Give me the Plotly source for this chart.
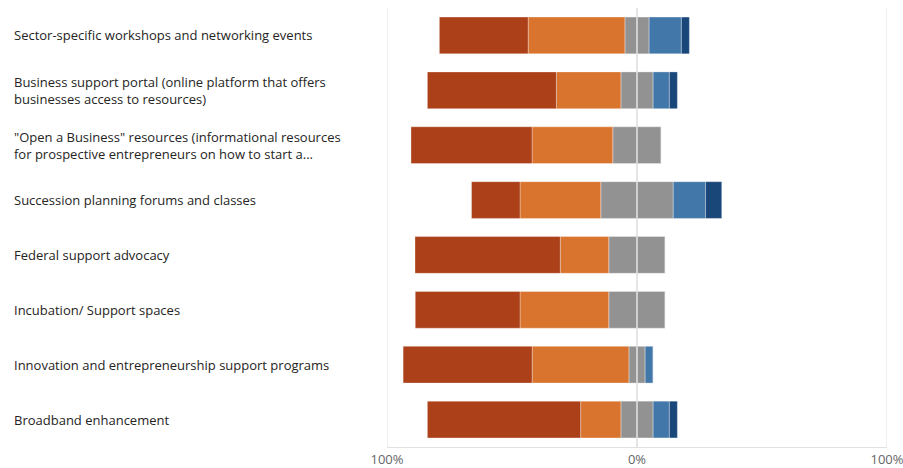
import plotly.graph_objects as go

categories = [
    "Sector-specific workshops and networking events",
    "Business support portal (online platform that offers<br>businesses access to resources)",
    "\"Open a Business\" resources (informational resources<br>for prospective entrepreneurs on how to start a...",
    "Succession planning forums and classes",
    "Federal support advocacy",
    "Incubation/ Support spaces",
    "Innovation and entrepreneurship support programs",
    "Broadband enhancement",
]

# percentages per response level
very_low = [35.5, 51.6, 48.4, 19.4, 58.1, 41.9, 51.6, 61.3]
low      = [38.7, 25.8, 32.3, 32.3, 19.4, 35.5, 38.7, 16.1]
neutral  = [9.7, 12.9, 19.4, 29.0, 22.6, 22.6, 6.5, 12.9]
high     = [12.9, 6.5, 0.0, 12.9, 0.0, 0.0, 3.2, 6.5]
very_high = [3.2, 3.2, 0.0, 6.5, 0.0, 0.0, 0.0, 3.2]

tick_vals = [-100, 0, 100]
tick_text = ["100%", "0%", "100%"]

C_VLOW = "#AB4019"
C_LOW = "#D9742F"
C_NEU = "#929292"
C_HIGH = "#4277A9"
C_VHIGH = "#1A477A"

ids = list(range(len(categories)))
line = dict(width=0.6, color="rgba(255,255,255,0.55)")

fig = go.Figure()
# negative side (first trace closest to zero)
fig.add_trace(go.Bar(y=ids, x=[-v / 2 for v in neutral], orientation="h",
                     marker=dict(color=C_NEU, line=line), name="Neutral", showlegend=False))
fig.add_trace(go.Bar(y=ids, x=[-v for v in low], orientation="h",
                     marker=dict(color=C_LOW, line=line), name="Low"))
fig.add_trace(go.Bar(y=ids, x=[-v for v in very_low], orientation="h",
                     marker=dict(color=C_VLOW, line=line), name="Very low"))
# positive side
fig.add_trace(go.Bar(y=ids, x=[v / 2 for v in neutral], orientation="h",
                     marker=dict(color=C_NEU, line=line), name="Neutral"))
fig.add_trace(go.Bar(y=ids, x=high, orientation="h",
                     marker=dict(color=C_HIGH, line=line), name="High"))
fig.add_trace(go.Bar(y=ids, x=very_high, orientation="h",
                     marker=dict(color=C_VHIGH, line=line), name="Very high"))

annotations = []
for i, c in enumerate(categories):
    annotations.append(dict(
        x=-0.75, xref="paper", y=i, yref="y", text=c, showarrow=False,
        xanchor="left", yanchor="middle", align="left",
        font=dict(family="Open Sans, Noto Sans, sans-serif", size=13, color="#252423"),
    ))

grid_shapes = [dict(type="line", xref="x", x0=v, x1=v, yref="paper", y0=0, y1=1,
                    line=dict(color="#E1E1E1", width=1), layer="below")
               for v in (-100, 100)]
grid_shapes.append(dict(type="line", xref="x", x0=0, x1=0, yref="paper", y0=0, y1=1,
                        line=dict(color="#DCDCDC", width=1.5), layer="above"))

fig.update_layout(
    width=903, height=468,
    barmode="relative", bargap=0.33,
    showlegend=False,
    plot_bgcolor="white", paper_bgcolor="white",
    margin=dict(l=387, r=16, t=8, b=21, autoexpand=False),
    annotations=annotations,
    shapes=grid_shapes,
    xaxis=dict(range=[-100, 100], tickvals=tick_vals, ticktext=tick_text,
               showgrid=False, automargin=False, ticklabeloverflow="allow",
               zeroline=False, showline=True, linecolor="#E1E1E1", linewidth=1,
               ticks="", ticklabelstandoff=0,
               tickfont=dict(family="Open Sans, Noto Sans, sans-serif", size=13, color="#666666"),
               fixedrange=True),
    yaxis=dict(autorange="reversed", showticklabels=False, showgrid=False, automargin=False,
               zeroline=False, showline=False, ticks=""),
)

fig.write_html("out.html",
               config={"displayModeBar": False},
               post_script="document.body.style.margin='0';document.body.style.overflow='hidden';")
